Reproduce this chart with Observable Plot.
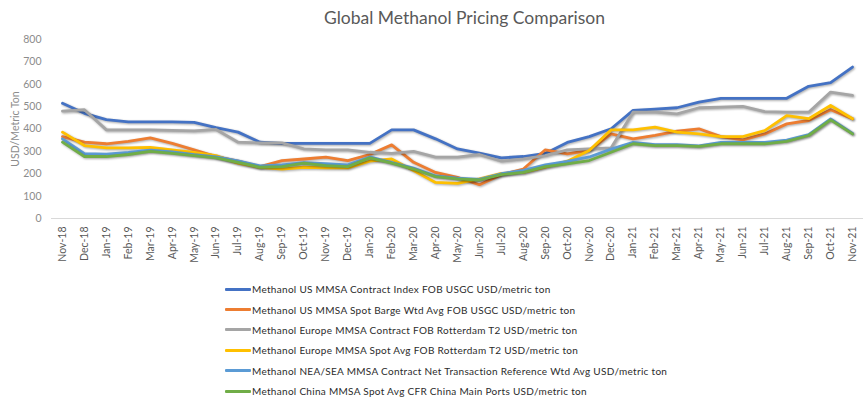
<!DOCTYPE html>
<html>
<head>
<meta charset="utf-8">
<script src="https://cdn.jsdelivr.net/npm/d3@7"></script>
<script src="https://cdn.jsdelivr.net/npm/@observablehq/plot@0.6"></script>
<style>
  body { margin: 0; background: #fff; font-family: Lato, "Open Sans", sans-serif; width: 867px; height: 408px; overflow: hidden; }
  #title { height: 34px; box-sizing: border-box; padding-top: 8px; text-align: center; font-size: 17.5px; line-height: 20px; color: #595959; padding-left: 62px; }
  #legend { margin-left: 225px; padding-top: 13px; }
  .row { height: 20.4px; display: flex; align-items: center; font-size: 10px; color: #2b2b2b; letter-spacing: 0.3px; }
  .sw { width: 26px; height: 3px; margin-right: 1px; border-radius: 1px; }
  svg g[aria-label="line"] path { filter: drop-shadow(1px 1.5px 1px rgba(0,0,0,0.35)); }
  svg g[aria-label="y-axis tick label"] { fill: #8c8c8c; }
  svg g[aria-label="y-axis label"] { fill: #8c8c8c; }
  svg g[aria-label="x-axis tick label"] { fill: #595959; }
</style>
</head>
<body>
<div id="title">Global Methanol Pricing Comparison</div>
<div id="chart"></div>
<div id="legend"></div>
<script>
const months = ["Nov-18","Dec-18","Jan-19","Feb-19","Mar-19","Apr-19","May-19","Jun-19","Jul-19","Aug-19","Sep-19","Oct-19","Nov-19","Dec-19","Jan-20","Feb-20","Mar-20","Apr-20","May-20","Jun-20","Jul-20","Aug-20","Sep-20","Oct-20","Nov-20","Dec-20","Jan-21","Feb-21","Mar-21","Apr-21","May-21","Jun-21","Jul-21","Aug-21","Sep-21","Oct-21","Nov-21"];

const seriesNames = [
  "Methanol US MMSA Contract Index FOB USGC USD/metric ton",
  "Methanol US MMSA Spot Barge Wtd Avg FOB USGC USD/metric ton",
  "Methanol Europe MMSA Contract FOB Rotterdam T2 USD/metric ton",
  "Methanol Europe MMSA Spot Avg FOB Rotterdam T2 USD/metric ton",
  "Methanol NEA/SEA MMSA Contract Net Transaction Reference Wtd Avg USD/metric ton",
  "Methanol China MMSA Spot Avg CFR China Main Ports USD/metric ton"
];
const seriesColors = ["#4472C4","#ED7D31","#A5A5A5","#FFC000","#5B9BD5","#70AD47"];

const usContract = [515,470,442,432,432,432,430,406,386,341,336,336,336,336,336,396,396,356,311,292,271,277,291,340,366,401,483,489,495,520,537,537,537,537,591,607,677];
const usSpot     = [366,341,334,345,360,336,307,277,256,232,259,266,274,259,286,329,251,206,184,151,196,221,307,289,304,378,356,371,390,401,366,351,378,423,438,486,446];
const euContract = [480,486,396,396,396,394,392,398,341,338,338,311,307,307,296,291,300,274,274,286,256,266,281,307,311,316,475,475,468,495,498,501,478,475,475,565,550];
const euSpot     = [386,326,316,316,318,307,296,281,247,229,221,229,226,226,256,266,214,161,157,177,202,206,229,256,304,396,396,408,386,378,366,366,393,460,446,505,446];
const neaSea     = [356,290,288,295,305,298,285,275,258,235,240,250,245,240,275,250,225,190,180,175,200,215,240,255,275,310,340,330,330,325,340,340,340,350,375,445,380];
const china      = [341,277,277,286,300,291,281,271,251,229,232,247,236,232,271,247,221,187,177,172,196,206,232,244,259,296,334,326,326,322,334,334,334,345,371,441,378];

const allSeries = [usContract, usSpot, euContract, euSpot, neaSea, china];
const data = [];
allSeries.forEach((vals, s) => vals.forEach((v, i) => data.push({month: months[i], value: v, series: seriesNames[s]})));

const chart = Plot.plot({
  width: 867,
  height: 232,
  marginTop: 5,
  marginBottom: 48,
  marginLeft: 51,
  marginRight: 4,
  style: {fontFamily: "Lato, sans-serif", fontSize: "10.5px", color: "#595959", background: "#fff"},
  x: {type: "point", domain: months, padding: 0.5, label: null, tickSize: 0, tickRotate: -90, tickPadding: 8},
  y: {domain: [0, 800], ticks: d3.range(0, 801, 100), tickSize: 0, tickPadding: 10, label: "USD/Metric Ton", labelArrow: false, labelAnchor: "center", labelOffset: 40},
  color: {domain: seriesNames, range: seriesColors},
  marks: [
    Plot.ruleY([0], {stroke: "#d9d9d9", strokeWidth: 1}),
    Plot.line(data, {x: "month", y: "value", z: "series", stroke: "series", strokeWidth: 2.8, strokeLinejoin: "round", strokeLinecap: "round"})
  ]
});
document.getElementById("chart").appendChild(chart);

const legend = document.getElementById("legend");
seriesNames.forEach((name, i) => {
  const row = document.createElement("div");
  row.className = "row";
  const sw = document.createElement("span");
  sw.className = "sw";
  sw.style.background = seriesColors[i];
  const t = document.createElement("span");
  t.textContent = name;
  row.appendChild(sw);
  row.appendChild(t);
  legend.appendChild(row);
});
</script>
</body>
</html>
